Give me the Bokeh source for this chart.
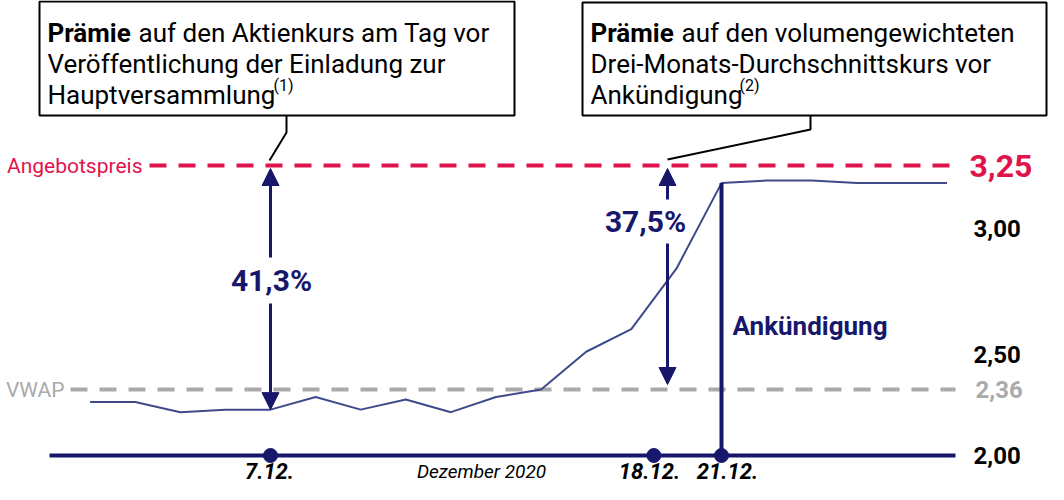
from bokeh.plotting import figure
from bokeh.models import Range1d, Arrow, NormalHead
from bokeh.core.properties import value
from bokeh.embed import file_html
from bokeh.resources import INLINE

# ---------------- data ----------------
dates = ["1.12.", "2.12.", "3.12.", "4.12.", "7.12.", "8.12.", "9.12.", "10.12.",
         "11.12.", "14.12.", "15.12.", "16.12.", "17.12.", "18.12.", "21.12.",
         "22.12.", "23.12.", "28.12.", "29.12.", "30.12."]
prices = [2.31, 2.31, 2.27, 2.28, 2.28, 2.33, 2.28, 2.32, 2.27, 2.33,
          2.36, 2.51, 2.60, 2.84, 3.18, 3.19, 3.19, 3.18, 3.18, 3.18]
offer_price = 3.25
vwap = 2.36
y_ticks = [2.00, 2.50, 3.00]
y_tick_labels = ["2,00", "2,50", "3,00"]
event_labels = ["7.12.", "18.12.", "21.12."]
event_pos = [4, 12.5, 14]
premium_labels = ["41,3%", "37,5%"]
month_label = "Dezember 2020"

# ---------------- styling ----------------
NAVY = "#17186B"
LINE = "#3E4A8A"
RED = "#E0144C"
GRAY = "#AAAAAA"
FONT = value("Roboto")

# screen-pixel -> data helpers (layout only)
def sx(px):
    return (px - 97.6) / 45.1

def sy(py):
    return 3.25 - (py - 173.0) / 251.7

W, H = 1048, 484
p = figure(width=W, height=H, output_backend="svg", toolbar_location=None,
           x_range=Range1d(sx(8), sx(8 + W)), y_range=Range1d(sy(8 + H), sy(8)),
           x_axis_location=None, y_axis_location=None, min_border=0)
p.grid.visible = False
p.outline_line_color = None
p.background_fill_color = "white"

idx = list(range(len(dates)))

# broken value axis: the 2,00 floor is drawn at the bottom of the chart area
floor = sy(463)
tick_pos = [max(t, floor) for t in y_ticks]

# reference lines
p.line([sx(157), sx(960)], [offer_price, offer_price], line_color=RED,
       line_width=4, line_dash="17 12")
p.line([sx(78), sx(963)], [vwap, vwap], line_color=GRAY,
       line_width=4, line_dash="17 12")

# price line
p.line(idx, prices, line_color=LINE, line_width=2)

# base line and event markers
p.line([sx(57), sx(963)], [floor, floor], line_color=NAVY, line_width=4)
ann_i = dates.index("21.12.")
p.line([ann_i, ann_i], [floor, prices[ann_i]], line_color=NAVY, line_width=4)
p.scatter(event_pos, [floor] * len(event_pos), size=14, color=NAVY)

# arrows
i7 = dates.index("7.12.")
head = dict(size=17, fill_color=NAVY, line_color=NAVY)
a1x = i7
p.add_layout(Arrow(end=NormalHead(**head), x_start=a1x, y_start=sy(265),
                   x_end=a1x, y_end=sy(176), line_color=NAVY, line_width=3))
p.add_layout(Arrow(end=NormalHead(**head), x_start=a1x, y_start=sy(311),
                   x_end=a1x, y_end=prices[i7], line_color=NAVY, line_width=3))
a2x = sx(675)
p.add_layout(Arrow(end=NormalHead(**head), x_start=a2x, y_start=sy(207),
                   x_end=a2x, y_end=sy(176), line_color=NAVY, line_width=3))
p.add_layout(Arrow(end=NormalHead(**head), x_start=a2x, y_start=sy(251),
                   x_end=a2x, y_end=sy(392), line_color=NAVY, line_width=3))

p.text([sx(279), sx(653)], [sy(288), sy(229)], text=premium_labels, text_font=FONT,
       text_font_size="30px", text_font_style="bold", text_color=NAVY,
       text_align="center", text_baseline="middle")

p.text([sx(740)], [sy(333)], text=["Ankündigung"], text_font=FONT,
       text_font_size="26px", text_font_style="bold", text_color=NAVY,
       text_align="left", text_baseline="middle")

# left labels
p.text([sx(150)], [offer_price], text=["Angebotspreis"], text_font=FONT,
       text_font_size="21px", text_color=RED, text_align="right", text_baseline="middle")
p.text([sx(72)], [vwap], text=["VWAP"], text_font=FONT,
       text_font_size="21px", text_color=GRAY, text_align="right", text_baseline="middle")

# right labels
p.text([sx(981)] * len(y_ticks), tick_pos, text=y_tick_labels, text_font=FONT,
       text_font_size="24px", text_font_style="bold", text_color="black",
       text_align="left", text_baseline="middle")
p.text([sx(983)], [vwap], text=["2,36"], text_font=FONT,
       text_font_size="24px", text_font_style="bold", text_color=GRAY,
       text_align="left", text_baseline="middle")
p.text([sx(977)], [offer_price], text=["3,25"], text_font=FONT,
       text_font_size="32px", text_font_style="bold", text_color=RED,
       text_align="left", text_baseline="alphabetic")

# date labels
date_x = [sx(277), sx(657), sx(735)]
p.text(date_x, [sy(478)] * 3, text=event_labels, text_font=FONT,
       text_font_size="22px", text_font_style="bold italic", text_color="black",
       text_align="center", text_baseline="middle")
p.text([sx(489)], [sy(479)], text=[month_label], text_font=FONT,
       text_font_size="19px", text_font_style="italic", text_color="black",
       text_align="center", text_baseline="middle")

# callout boxes
p.quad(left=[sx(47), sx(590)], right=[sx(522), sx(1054)],
       top=[sy(9), sy(10)], bottom=[sy(123), sy(123)],
       fill_color="white", line_color="black", line_width=2)
p.line([sx(294), sx(294), sx(277)], [sy(123), sy(140), sy(168)],
       line_color="black", line_width=2)
p.line([sx(818), sx(818), sx(675)], [sy(123), sy(137), sy(167)],
       line_color="black", line_width=2)

box_font = dict(text_font=FONT, text_font_size="26px", text_color="black",
                text_align="left", text_baseline="alphabetic")
p.text([sx(55), sx(598)], [sy(40), sy(40)], text=["Prämie", "Prämie"],
       text_font_style="bold", **box_font)
p.text([sx(146), sx(689)], [sy(40), sy(40)],
       text=["auf den Aktienkurs am Tag vor", "auf den volumengewichteten"], **box_font)
p.text([sx(55), sx(55), sx(598), sx(598)], [sy(71), sy(102), sy(71), sy(102)],
       text=["Veröffentlichung der Einladung zur", "Hauptversammlung",
             "Drei-Monats-Durchschnittskurs vor", "Ankündigung"], **box_font)
p.text([sx(281), sx(747)], [sy(93), sy(93)], text=["(1)", "(2)"], text_font=FONT,
       text_font_size="16px", text_color="black", text_align="left",
       text_baseline="alphabetic")

open("out.html", "w").write(file_html(p, INLINE))
